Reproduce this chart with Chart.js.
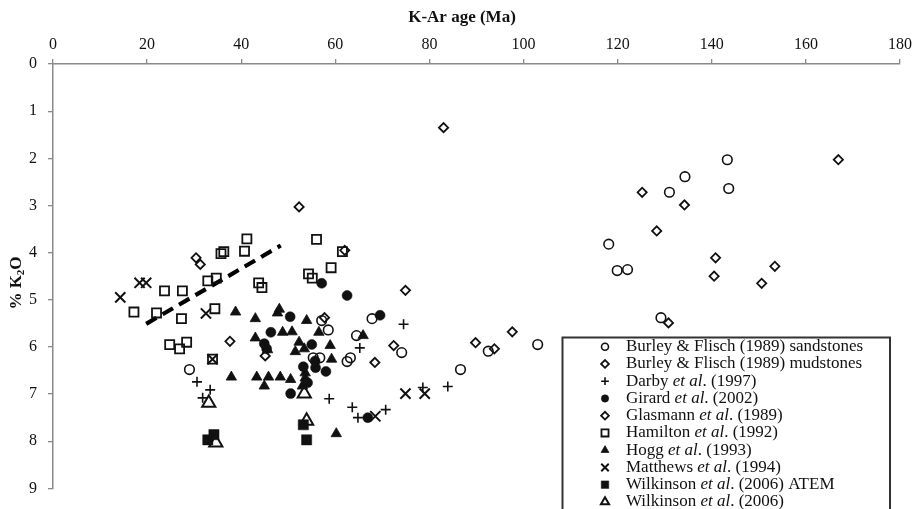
<!DOCTYPE html>
<html><head><meta charset="utf-8">
<script src="https://cdn.jsdelivr.net/npm/chart.js@4/dist/chart.umd.min.js"></script>
<style>html,body{margin:0;padding:0;background:#fff;}#wrap{width:917px;height:509px;position:relative;overflow:hidden}</style>
</head><body><div id="wrap"><canvas id="c" width="917" height="509"></canvas></div>
<script>
// ---- axis ticks ----
const X_TICKS = [0,20,40,60,80,100,120,140,160,180];
const Y_TICKS = [0,1,2,3,4,5,6,7,8,9];
const X_TITLE = 'K-Ar age (Ma)';

// ---- series (age Ma, % K2O) ----
const sandAge = [29.0,57.1,58.5,64.5,67.8,55.3,56.7,62.5,63.2,74.1,86.6,92.5,103.0,118.1,119.9,122.1,129.2,131.0,134.3,143.3,143.6];
const sandK   = [6.48,5.44,5.64,5.76,5.40,6.23,6.23,6.31,6.23,6.12,6.48,6.09,5.95,3.82,4.38,4.36,5.38,2.72,2.39,2.03,2.64];

const mudAge = [83.0,89.8,93.8,97.6,125.2,128.3,130.8,134.2,140.8,140.5,150.6,153.4,166.9,72.4,68.4];
const mudK   = [1.35,5.91,6.04,5.68,2.72,3.54,5.49,2.99,4.11,4.50,4.65,4.29,2.03,5.97,6.33];

const darbyAge = [30.6,33.4,31.8,58.7,63.6,64.8,70.7,65.2,74.5,78.6,83.9];
const darbyK   = [6.74,6.91,7.08,7.10,7.28,7.50,7.33,6.02,5.52,6.86,6.84];

const girardAge = [57.1,62.5,69.5,50.4,46.3,44.9,45.4,55.0,53.2,55.8,58.0,54.1,50.5,66.9,55.7];
const girardK   = [4.65,4.91,5.33,5.36,5.69,5.93,6.04,5.95,6.42,6.44,6.52,6.76,6.99,7.50,6.30];

const glasAge = [30.4,31.3,37.6,45.1,52.3,57.7,62.0,74.9];
const glasK   = [4.11,4.25,5.88,6.19,3.03,5.38,3.95,4.80];

const hamAge = [17.2,22.0,23.7,27.5,27.3,32.9,34.7,34.4,35.7,36.3,40.7,41.2,24.8,26.9,28.4,33.9,43.7,44.4,56.0,54.3,55.1,59.1,61.5];
const hamK   = [5.26,5.28,4.81,4.81,5.40,4.60,4.54,5.19,4.02,3.98,3.97,3.71,5.95,6.04,5.90,6.26,4.64,4.74,3.72,4.45,4.54,4.32,3.98];

const hoggAge = [38.8,43.0,47.7,48.1,53.9,48.8,50.8,43.0,56.5,52.3,51.5,53.4,58.9,59.2,65.9,37.9,43.3,45.8,44.9,48.3,50.5,53.6,53.0,60.2,45.6,53.6];
const hoggK   = [5.26,5.40,5.28,5.20,5.44,5.69,5.68,5.81,5.69,5.90,6.10,6.04,5.97,6.26,5.76,6.64,6.64,6.64,6.83,6.64,6.69,6.66,6.83,7.84,6.06,6.55];

const matAge = [14.3,18.4,19.8,32.5,33.9,68.5,74.9,79.0];
const matK   = [4.95,4.64,4.64,5.29,6.26,7.47,6.99,6.99];

const atemAge = [32.9,34.2,53.2,53.9];
const atemK   = [7.97,7.86,7.65,7.97];

const wilkAge = [33.1,34.6,53.4,53.9];
const wilkK   = [7.19,8.03,6.99,7.57];

const trendAge = [19.8,48.4];
const trendK   = [5.51,3.85];

const LABELS = [
  'Burley & Flisch (1989) sandstones',
  'Burley & Flisch (1989) mudstones',
  'Darby et al. (1997)',
  'Girard et al. (2002)',
  'Glasmann et al. (1989)',
  'Hamilton et al. (1992)',
  'Hogg et al. (1993)',
  'Matthews et al. (1994)',
  'Wilkinson et al. (2006) ATEM',
  'Wilkinson et al. (2006)'
];

function pts(a,k){ return a.map((v,i)=>({x:v,y:k[i]})); }
const SERIF = '"Liberation Serif","Times New Roman",serif';
const INK = '#111';
const NONE = 'rgba(0,0,0,0)';

function ds(label, a, k, style, r, bw, filled, lr){
  return {label, data: pts(a,k), pointStyle: style, pointRadius: r, pointHoverRadius: r,
    pointBorderWidth: bw, borderColor: INK, pointBorderColor: INK,
    pointBackgroundColor: filled ? INK : NONE, backgroundColor: filled ? INK : NONE,
    showLine: false, legendRadius: lr};
}

const datasets = [
  ds(LABELS[0], sandAge, sandK, 'circle', 4.8, 1.6, false, 3.5),
  ds(LABELS[1], mudAge, mudK, 'rectRot', 4.6, 1.8, false, 3.9),
  ds(LABELS[2], darbyAge, darbyK, 'cross', 5, 1.6, false, 3.9),
  ds(LABELS[3], girardAge, girardK, 'circle', 5, 0.5, true, 3.7),
  ds(LABELS[4], glasAge, glasK, 'rectRot', 4.6, 1.8, false, 3.9),
  ds(LABELS[5], hamAge, hamK, 'rect', 6.4, 1.8, false, 5.0),
  ds(LABELS[6], hoggAge, hoggK, 'triangle', 6, 0.8, true, 4.5),
  ds(LABELS[7], matAge, matK, 'crossRot', 7.2, 2, false, 5.3),
  ds(LABELS[8], atemAge, atemK, 'rect', 7.2, 0.5, true, 5.3),
  ds(LABELS[9], wilkAge, wilkK, 'triangle', 7.6, 2, false, 4.7),
  {type:'line', label:'trend', data: pts(trendAge, trendK), borderColor:'#000', borderWidth:4.2,
   borderDash:[12,7], pointRadius:0, showLine:true, fill:false, legendSkip:true}
];

const decor = {
  id: 'decor',
  afterDraw(chart){
    const ctx = chart.ctx;
    ctx.save();
    // x title
    ctx.fillStyle = INK;
    ctx.font = 'bold 17px ' + SERIF;
    ctx.textAlign = 'center';
    ctx.textBaseline = 'middle';
    ctx.fillText(X_TITLE, 462, 18);
    // y title with subscript
    ctx.translate(17, 283);
    ctx.rotate(-Math.PI/2);
    const big = 'bold 17px ' + SERIF, small = 'bold 11px ' + SERIF;
    ctx.font = big; const w1 = ctx.measureText('% K').width; const w3 = ctx.measureText('O').width;
    ctx.font = small; const w2 = ctx.measureText('2').width;
    let x0 = -(w1+w2+w3)/2;
    ctx.textAlign = 'left';
    ctx.font = big; ctx.fillText('% K', x0, 0);
    ctx.font = small; ctx.fillText('2', x0 + w1, 4);
    ctx.font = big; ctx.fillText('O', x0 + w1 + w2, 0);
    ctx.restore();

    // legend box
    ctx.save();
    ctx.fillStyle = '#fff';
    ctx.fillRect(562.5, 337.5, 327.5, 200);
    ctx.strokeStyle = '#333';
    ctx.lineWidth = 2;
    ctx.strokeRect(562.5, 337.5, 327.5, 200);
    const items = chart.data.datasets.filter(d => !d.legendSkip);
    items.forEach((d, i) => {
      const y = 346.7 + i * 17.25;
      ctx.fillStyle = d.pointBackgroundColor;
      ctx.strokeStyle = INK;
      ctx.lineWidth = d.pointBorderWidth;
      Chart.helpers.drawPoint(ctx, {pointStyle: d.pointStyle, radius: d.legendRadius,
        borderWidth: d.pointBorderWidth, rotation: 0}, 605, y);
      ctx.fillStyle = INK;
      ctx.textAlign = 'left';
      ctx.textBaseline = 'middle';
      let x = 626;
      const parts = d.label.split(/(et al)/);
      parts.forEach(p => {
        if (!p) return;
        ctx.font = (p === 'et al' ? 'italic ' : '') + '17px ' + SERIF;
        ctx.fillText(p, x, y);
        x += ctx.measureText(p).width;
      });
    });
    ctx.restore();
  }
};

new Chart(document.getElementById('c'), {
  type: 'scatter',
  data: { datasets },
  options: {
    responsive: false,
    devicePixelRatio: 1,
    animation: false,
    layout: { padding: { top: 0, left: 0, right: 14, bottom: 9 } },
    plugins: { legend: { display: false }, tooltip: { enabled: false } },
    scales: {
      x: {
        type: 'linear', position: 'top', min: 0, max: 180,
        afterFit: s => { s.height = 64; },
        afterBuildTicks: s => { s.ticks = X_TICKS.map(v => ({value: v})); },
        ticks: { color: INK, font: { family: SERIF, size: 16 }, padding: 5, maxRotation: 0 },
        grid: { drawOnChartArea: false, drawTicks: true, tickLength: 5, color: '#8a8a8a', lineWidth: 1.3 },
        border: { display: true, color: '#8a8a8a', width: 1.5 },
        title: { display: false }
      },
      y: {
        type: 'linear', reverse: true, min: 0, max: 9,
        afterFit: s => { s.width = 53; },
        afterBuildTicks: s => { s.ticks = Y_TICKS.map(v => ({value: v})); },
        ticks: { color: INK, font: { family: SERIF, size: 16 }, padding: 11 },
        grid: { drawOnChartArea: false, drawTicks: true, tickLength: 5, color: '#8a8a8a', lineWidth: 1.3 },
        border: { display: true, color: '#8a8a8a', width: 1.5 },
        title: { display: false }
      }
    }
  },
  plugins: [decor]
});
</script>
</body></html>
